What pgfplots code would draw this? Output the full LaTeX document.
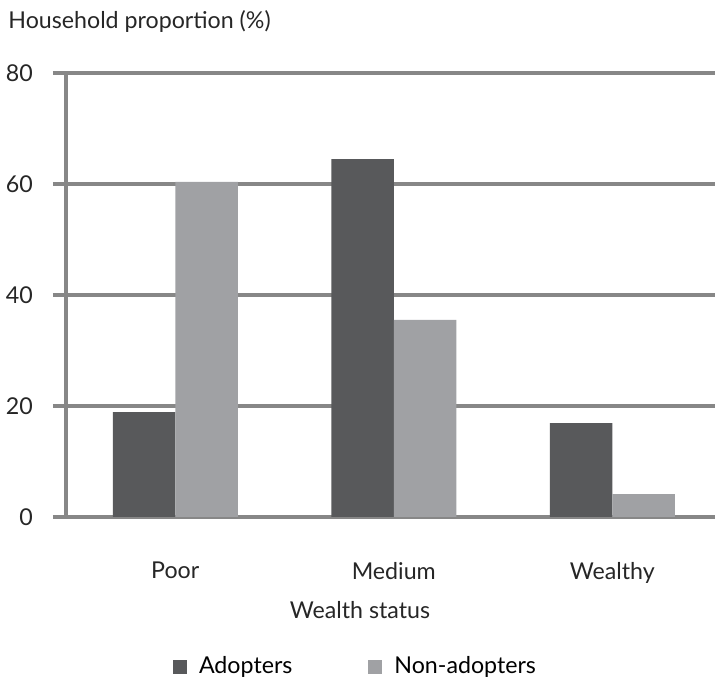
\documentclass[border=0pt]{standalone}
\usepackage{fontspec}
\setmainfont{Lato}
\usepackage{pgfplots}
\pgfplotsset{compat=1.18}
\definecolor{adopt}{HTML}{58595B}
\definecolor{nonadopt}{HTML}{A0A1A4}
\definecolor{gridgray}{HTML}{878787}
\newcommand{\chartfont}{\fontsize{11.6}{13.9}\selectfont}
\begin{document}
\chartfont
\begin{tikzpicture}
\useasboundingbox (-33pt,-85.5pt) rectangle (324.5pt,258.5pt);
\begin{axis}[
  name=ax,
  at={(0pt,0pt)}, anchor=south west,
  scale only axis,
  width=324.5pt, height=222pt,
  ybar=0pt, bar width=31.25pt,
  xmin=-0.5, xmax=2.47,
  ymin=0, ymax=80,
  clip=false,
  xtick={0,1,2},
  xticklabels={Poor,Medium,Wealthy},
  ytick={0,20,40,60,80},
  axis x line*=bottom,
  axis y line*=left,
  x axis line style={draw=none},
  y axis line style={-, color=gridgray, line width=2pt},
  ymajorgrids,
  major grid style={color=gridgray, line width=2pt},
  xtick style={draw=none},
  ytick style={color=gridgray, line width=2pt},
  tick align=outside,
  major tick length=6.5pt,
  ytick pos=left,
  /pgf/number format/assume math mode=true,
  tick label style={font=\chartfont, color=black!85},
  yticklabel style={anchor=east, xshift=-6pt},
  xticklabel style={yshift=-12pt},
  legend style={draw=none, fill=none, at={(0.4476,-0.3378)}, anchor=center,
    legend columns=2, font=\chartfont,
    /tikz/every even column/.append style={column sep=36pt}},
  legend image code/.code={\fill (0pt,-3.5pt) rectangle (7pt,3.5pt); \path (11pt,0pt);},
]
\addplot[fill=adopt, draw=none] coordinates {(0,18.9) (1,64.5) (2,16.9)};
\addplot[fill=nonadopt, draw=none] coordinates {(0,60.4) (1,35.5) (2,4.1)};
\legend{Adopters,Non-adopters}
\end{axis}
\node[anchor=west, inner sep=0pt, color=black!85] at (-29pt,247.5pt) {Household proportion (\%)};
\node[inner sep=0pt, color=black!85] at (147pt,-46.5pt) {Wealth status};
\end{tikzpicture}
\end{document}
